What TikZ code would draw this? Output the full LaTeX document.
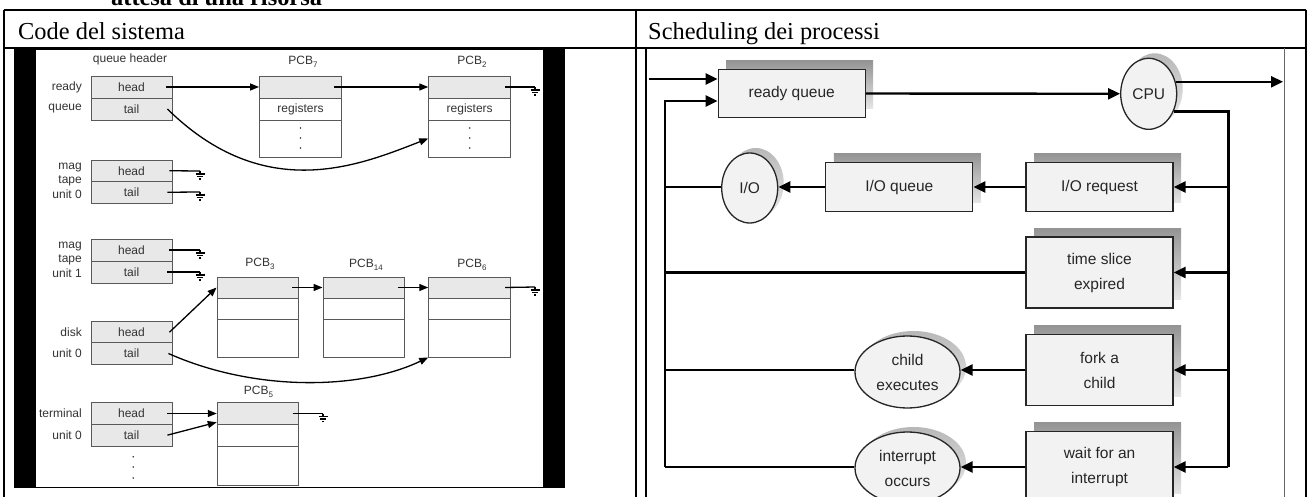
\documentclass[tikz,border=0pt]{standalone}
\usepackage{fontspec}
\setmainfont{Liberation Serif}
\newfontfamily\dsf{Liberation Sans}
\usetikzlibrary{arrows.meta,shapes.geometric,calc,shadows}
\begin{document}
\begin{tikzpicture}[x=1pt,y=-1pt,
  lrow/.style={draw=black!65, line width=0.9pt, fill=black!9, minimum width=81pt, inner sep=0pt,
     font=\dsf\fontsize{12}{14}\selectfont, text=black!80},
  lroww/.style={lrow, fill=white},
  llab/.style={anchor=east, inner sep=0pt, align=right, font=\dsf\fontsize{12}{14.5}\selectfont, text=black!80},
  ltxt/.style={inner sep=0pt, font=\dsf\fontsize{12}{14}\selectfont, text=black!80},
  larr/.style={line width=1.3pt, -{Triangle[length=9pt,width=7pt]}},
  lline/.style={line width=1.3pt},
  ground/.pic={\draw[line width=1.1pt] (0,0) -- (0,3) (-4.5,3) -- (4.5,3) (-3,5.5) -- (3,5.5) (-1.2,8) -- (1.2,8);},
  rshadow/.style={general shadow={shadow xshift=8pt, shadow yshift=9pt, top color=black!42, bottom color=black!10}},
  rbox/.style={draw=black!85, line width=1.3pt, fill=black!5, minimum width=147pt, inner sep=0pt, align=center,
     font=\dsf\fontsize{15.5}{25}\selectfont, text=black!85, rshadow},
  rell/.style={ellipse, draw=black!85, line width=1.3pt, fill=black!5, inner sep=0pt, align=center,
     font=\dsf\fontsize{15.5}{25}\selectfont, text=black!85,
     general shadow={shadow xshift=6pt, shadow yshift=5pt, top color=black!28, bottom color=black!8}},
  rarr/.style={line width=2.4pt, -{Triangle[length=12pt,width=11pt]}},
  rline/.style={line width=2.4pt},
  hdr/.style={anchor=base west, inner sep=0pt, font=\fontsize{24.4}{28}\selectfont},
  tline/.style={line width=2pt}
]
\useasboundingbox (0,0) rectangle (1308,497);
\clip (0,0) rectangle (1308,497);
\fill[white] (0,0) rectangle (1308,497);

% partial caption above the table
\node[anchor=base west, inner sep=0pt, font=\bfseries\fontsize{24.4}{28}\selectfont] (cap) at (111,6) {attesa di una risorsa};

% table
\draw[tline] (4,10) -- (1306,10);
\draw[tline] (4,48) -- (1306,48);
\draw[tline] (4,10) -- (4,497);
\draw[tline] (636,10) -- (636,497);
\draw[tline] (1306,10) -- (1306,497);
\node[hdr] (h1) at (18,40) {Code del sistema};
\node[hdr] (h2) at (648,40) {Scheduling dei processi};

% ---------------- left picture ----------------
\fill[black] (14,48) rectangle (565,488);
\fill[white] (36,50) rectangle (543,486.5);

\node[ltxt] (qh) at (130,59) {queue header};
\node[lrow, minimum height=22pt] (rqh) at (131.5,87) {head};
\node[lrow, minimum height=22pt] (rqt) at (131.5,109) {tail};
\node[llab] (l1a) at (82,87) {ready};
\node[llab] (l1b) at (82,109) {queue};

\node[lrow, minimum height=21.5pt] (m0h) at (131.5,170.75) {head};
\node[lrow, minimum height=21.5pt] (m0t) at (131.5,192.25) {tail};
\node[llab] (l2) at (82,180.5) {mag\\tape\\unit 0};

\node[lrow, minimum height=22pt] (m1h) at (131.5,250) {head};
\node[lrow, minimum height=22pt] (m1t) at (131.5,272) {tail};
\node[llab] (l3) at (82,259.5) {mag\\tape\\unit 1};

\node[lrow, minimum height=21pt] (dh) at (131.5,332.2) {head};
\node[lrow, minimum height=21.6pt] (dt) at (131.5,353.5) {tail};
\node[llab] (l4a) at (82,332) {disk};
\node[llab] (l4b) at (82,353) {unit 0};

\node[lrow, minimum height=21.6pt] (th) at (131.5,413.5) {head};
\node[lrow, minimum height=21.7pt] (tt) at (131.5,435.15) {tail};
\node[llab] (l5a) at (82,413.5) {terminal};
\node[llab] (l5b) at (82,435) {unit 0};

% PCB7 and PCB2
\node[lrow, minimum width=82pt, minimum height=22pt] (p7a) at (300.5,87) {};
\node[lroww, minimum width=82pt, minimum height=22pt] (p7b) at (300.5,109) {registers};
\node[lroww, minimum width=82pt, minimum height=37pt] (p7c) at (300.5,138.5) {};
\node[ltxt] (p7l) at (303,62) {PCB\raisebox{-3pt}{\fontsize{8}{8}\selectfont 7}};
\node[lrow, minimum width=82pt, minimum height=22pt] (p2a) at (469.7,87) {};
\node[lroww, minimum width=82pt, minimum height=22pt] (p2b) at (469.7,109) {registers};
\node[lroww, minimum width=82pt, minimum height=37pt] (p2c) at (469.7,138.5) {};
\node[ltxt] (p2l) at (472,62) {PCB\raisebox{-3pt}{\fontsize{8}{8}\selectfont 2}};

% PCB3, PCB14, PCB6
\node[lrow, minimum height=21pt] (p3a) at (257.5,287.5) {};
\node[lroww, minimum height=21.3pt] (p3b) at (257.5,308.65) {};
\node[lroww, minimum height=37.7pt] (p3c) at (257.5,338.15) {};
\node[ltxt] (p3l) at (260,264) {PCB\raisebox{-3pt}{\fontsize{8}{8}\selectfont 3}};
\node[lrow, minimum height=21pt] (p14a) at (363.5,287.5) {};
\node[lroww, minimum height=21.3pt] (p14b) at (363.5,308.65) {};
\node[lroww, minimum height=37.7pt] (p14c) at (363.5,338.15) {};
\node[ltxt] (p14l) at (366,265) {PCB\raisebox{-3pt}{\fontsize{8}{8}\selectfont 14}};
\node[lrow, minimum width=82pt, minimum height=21pt] (p6a) at (469.7,287.5) {};
\node[lroww, minimum width=82pt, minimum height=21.3pt] (p6b) at (469.7,308.65) {};
\node[lroww, minimum width=82pt, minimum height=37.7pt] (p6c) at (469.7,338.15) {};
\node[ltxt] (p6l) at (472,265) {PCB\raisebox{-3pt}{\fontsize{8}{8}\selectfont 6}};

% PCB5
\node[lrow, minimum height=21.6pt] (p5a) at (257.7,413.5) {};
\node[lroww, minimum height=21.7pt] (p5b) at (257.7,435.15) {};
\node[lroww, minimum height=39pt] (p5c) at (257.7,465.5) {};
\node[ltxt] (p5l) at (258.5,391.7) {PCB\raisebox{-3pt}{\fontsize{8}{8}\selectfont 5}};

% dots
\foreach \yy in {128,138,148} {
  \fill[black!80] (300.5,\yy) circle (0.9);
  \fill[black!80] (469.7,\yy) circle (0.9);
}
\foreach \yy in {456.7,467,478} { \fill[black!80] (133.3,\yy) circle (0.9); }

% grounds
\coordinate (g1) at (535,87);
\coordinate (g2) at (200,171);
\coordinate (g3) at (200,192);
\coordinate (g4) at (200,250);
\coordinate (g5) at (200,272);
\coordinate (g6) at (535,287);
\coordinate (g7) at (323,413.5);
\foreach \g in {g1,g2,g3,g4,g5,g6,g7} { \pic at (\g) {ground}; }

% left connectors
\draw[larr] ([xshift=-6pt]rqh.east) -- (p7a.west);
\draw[larr] ([xshift=-8pt]p7a.east) -- (p2a.west);
\draw[lline] ([xshift=-6pt]p2a.east) -- (g1);
\draw[larr] ([xshift=-5pt]rqt.east) .. controls (265,205) and (360,165) .. (p2c.west);
\draw[lline] ([xshift=-3pt]m0h.east) -- (g2);
\draw[lline] ([xshift=-5pt]m0t.east) -- (g3);
\draw[lline] ([xshift=-3pt]m1h.east) -- (g4);
\draw[lline] ([xshift=-5pt]m1t.east) -- (g5);
\draw[larr] ([xshift=-3pt]dh.east) -- (p3a.west);
\draw[larr] ([xshift=-4pt]dt.east) .. controls (255,392) and (360,390) .. (p6c.south west);
\draw[larr] ([xshift=-6pt]p3a.east) -- (p14a.west);
\draw[larr] ([xshift=-6pt]p14a.east) -- (p6a.west);
\draw[lline] ([xshift=-6pt]p6a.east) -- (g6);
\draw[larr] ([xshift=-5pt]th.east) -- (p5a.west);
\draw[larr] ([xshift=-5pt]tt.east) -- ($(p5a.south west)+(0,-2.5)$);
\draw[lline] ([xshift=-6pt]p5a.east) -- (g7);

% ---------------- right picture ----------------
\draw[line width=1.5pt] (646,48) -- (646,497);
\draw[black!60, line width=0.8pt] (1284,48) -- (1284,497);

\node[rbox, minimum height=48pt] (rq) at (791.7,93.5) {ready queue};
\node[rell, minimum width=56pt, minimum height=71pt] (cpu) at (1148.7,93.8) {CPU};
\node[rbox, minimum height=49pt] (iorq) at (1099.5,187) {I/O request};
\node[rbox, minimum height=49pt] (ioq) at (899.3,187) {I/O queue};
\node[rell, minimum width=56pt, minimum height=70pt] (io) at (749.7,188) {I/O};
\node[rbox, minimum height=71pt] (ts) at (1099.5,272.5) {time slice\\expired};
\node[rbox, minimum height=71pt] (fk) at (1099.5,370) {fork a\\child};
\node[rbox, minimum height=71pt] (wt) at (1099.5,467) {wait for an\\interrupt};
\node[rell, minimum width=105pt, minimum height=72pt] (ce) at (907.5,372) {child\\executes};
\node[rell, minimum width=105pt, minimum height=72pt] (ic) at (907.5,468) {interrupt\\occurs};

\coordinate (in) at (649,79);
\coordinate (out) at (1283,80.7);
\coordinate (lt) at (665,101);
\coordinate (lb) at (665,467);
\coordinate (rb) at (1228.3,467);

\draw[rarr] (in) -- (in -| rq.west);
\draw[rarr] (lb) -- (lt) -- (lt -| rq.west);
\draw[rarr] (rq.east) -- (cpu.west);
\draw[rarr] (cpu.24) -- (cpu.24 -| out);
\draw[rline] (cpu.-35) -- (cpu.-35 -| rb) -- (rb);
\draw[rarr] (iorq.east -| rb) -- (iorq.east);
\draw[rarr] (ts.east -| rb) -- (ts.east);
\draw[rarr] (fk.east -| rb) -- (fk.east);
\draw[rarr] (rb) -- (wt.east);
\draw[rarr] (iorq.west) -- (ioq.east);
\draw[rarr] (ioq.west) -- (io.east |- ioq.west);
\draw[rline] (io.west |- ioq.west) -- (ioq.west -| lb);
\draw[rline] (ts.west) -- (ts.west -| lb);
\draw[rarr] (fk.west) -- (ce.east |- fk.west);
\draw[rline] (ce.west |- fk.west) -- (fk.west -| lb);
\draw[rarr] (wt.west) -- (ic.east |- wt.west);
\draw[rline] (ic.west |- wt.west) -- (lb);
\end{tikzpicture}
\end{document}
